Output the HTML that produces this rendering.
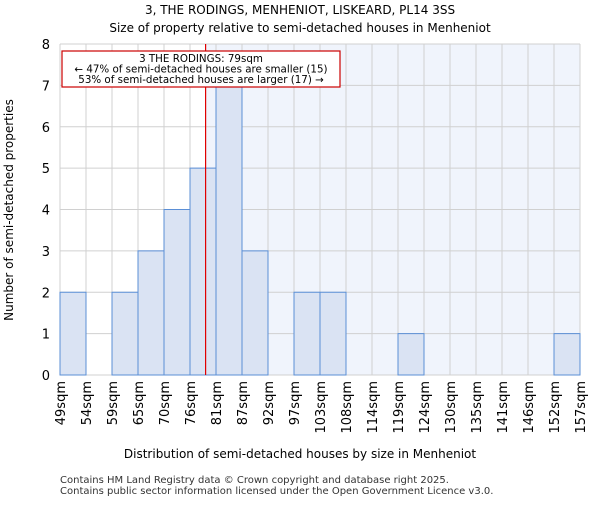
<!DOCTYPE html>
<html><head><meta charset="utf-8"><style>
body{margin:0;background:#fff}
svg{font-family:"DejaVu Sans","Liberation Sans",sans-serif}
</style></head><body>
<svg id="chart" width="600" height="500" viewBox="0 0 600 500">
<text x="300" y="14" text-anchor="middle" font-size="12">3, THE RODINGS, MENHENIOT, LISKEARD, PL14 3SS</text>
<text x="300" y="32" text-anchor="middle" font-size="12">Size of property relative to semi-detached houses in Menheniot</text>
<g id="plot"></g>
<text x="300" y="458" text-anchor="middle" font-size="12">Distribution of semi-detached houses by size in Menheniot</text>
<text transform="translate(13,210) rotate(-90)" text-anchor="middle" font-size="12">Number of semi-detached properties</text>
<text x="60" y="483" font-size="10" fill="#333">Contains HM Land Registry data © Crown copyright and database right 2025.</text>
<text x="60" y="494" font-size="10" fill="#333">Contains public sector information licensed under the Open Government Licence v3.0.</text>
</svg>
<script>
const binLabels=["49sqm","54sqm","59sqm","65sqm","70sqm","76sqm","81sqm","87sqm","92sqm","97sqm","103sqm","108sqm","114sqm","119sqm","124sqm","130sqm","135sqm","141sqm","146sqm","152sqm","157sqm"];
const binEdges=[49,54,59,65,70,76,81,87,92,97,103,108,114,119,124,130,135,141,146,152,157];
const counts=[2,0,2,3,4,5,7,3,0,2,2,0,0,1,0,0,0,0,0,1];
const yTicks=[0,1,2,3,4,5,6,7,8];
const subjectSize=79;
const NS="http://www.w3.org/2000/svg";
const g=document.getElementById('plot');
const X0=60,X1=580,Y0=375,Y1=44,YMAX=8;
const bw=(X1-X0)/counts.length;
const xi=i=>X0+i*bw;
const y=v=>Y0-(v/YMAX)*(Y0-Y1);
function xv(v){for(let i=0;i<binEdges.length-1;i++){if(v>=binEdges[i]&&v<=binEdges[i+1])return xi(i)+(v-binEdges[i])/(binEdges[i+1]-binEdges[i])*bw;}return X1;}
function el(t,a){const e=document.createElementNS(NS,t);for(const k in a)e.setAttribute(k,a[k]);g.appendChild(e);return e;}
const sx=xv(subjectSize);
let r=el('rect',{x:sx,y:Y1,width:X1-sx,height:Y0-Y1,fill:'#f0f4fc'});


for(let i=0;i<=counts.length;i++){let l=el('line',{x1:xi(i),x2:xi(i),y1:Y1,y2:Y0,stroke:'#d0d0d0','stroke-width':1});

}
yTicks.forEach(t=>{let l=el('line',{x1:X0,x2:X1,y1:y(t),y2:y(t),stroke:'#d0d0d0','stroke-width':1});


let tx=el('text',{x:X0-10,y:y(t)+5,'text-anchor':'end','font-size':13});tx.textContent=t;

});
counts.forEach((c,i)=>{if(c<=0)return;
let b=el('rect',{x:xi(i),y:y(c),width:bw,height:Y0-y(c),fill:'#dae3f3',stroke:'#5b8fd6','stroke-width':1});

});
binLabels.forEach((s,i)=>{let tx=el('text',{transform:`translate(${xi(i)+5},${381}) rotate(-90)`,'text-anchor':'end','font-size':13});tx.textContent=s;

});
let rl=el('line',{x1:sx,x2:sx,y1:Y1,y2:Y0,stroke:'#e00000','stroke-width':1.2});


let box=el('rect',{x:62,y:51,width:278,height:36,fill:'#fff',stroke:'#cc0000','stroke-width':1.2});


["3 THE RODINGS: 79sqm","← 47% of semi-detached houses are smaller (15)","53% of semi-detached houses are larger (17) →"].forEach((s,i)=>{
let t=el('text',{x:201,y:62+i*10.5,'text-anchor':'middle','font-size':10.3});t.textContent=s;

});
</script>
</body></html>
